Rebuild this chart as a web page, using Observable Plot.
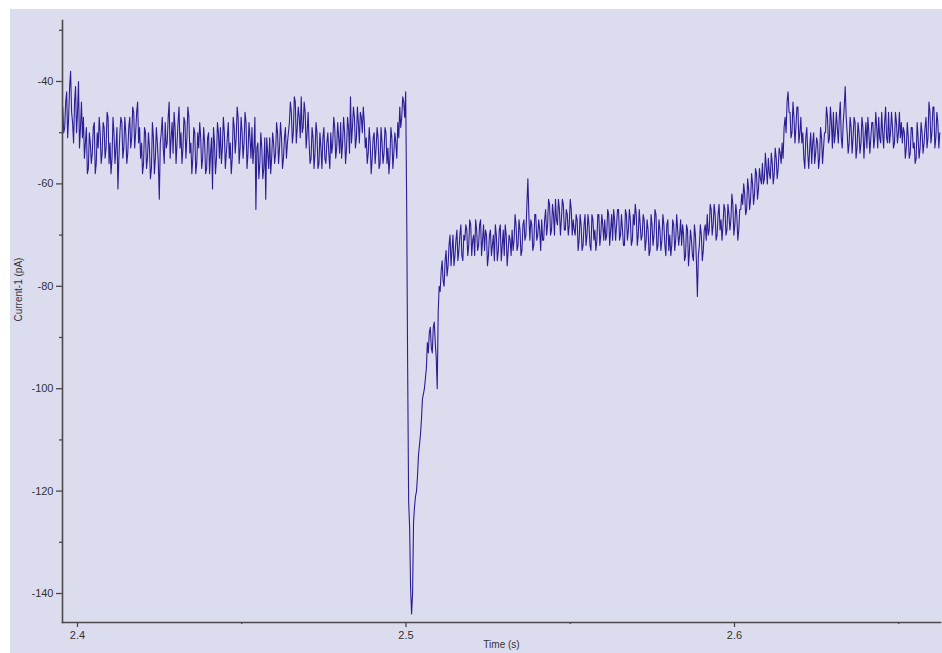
<!DOCTYPE html>
<html>
<head>
<meta charset="utf-8">
<script src="https://cdn.jsdelivr.net/npm/d3@7"></script>
<script src="https://cdn.jsdelivr.net/npm/@observablehq/plot@0.6"></script>
<style>
  html, body { margin: 0; padding: 0; background: #ffffff; overflow: hidden; }
  #chart { position: absolute; left: 10px; top: 9px; width: 932px; height: 644px; background: #dcdcef; }
  #chart svg { display: block; }
</style>
</head>
<body>
<div id="chart"></div>
<script>
// Recording: sampled trace (Current-1, pA)
const sampleStart = 2.3955;   // s, first sample
const sampleStep = 0.0006;    // s, between samples in `current`
// samples on the grid sampleStart + i*sampleStep
const current = [
  -45, -49, -42, -47, -38, -48, -44, -50, -40, -49,
  -51, -55, -49, -57, -52, -54, -48, -56, -53, -50,
  -54, -49, -53, -47, -52, -55, -50, -53, -61, -50,
  -48, -53, -50, -54, -47,
  -51, -46, -50, -44, -49,
  -52, -56, -50, -55, -53, -57, -51, -55, -52, -63,
  -50, -53, -48, -52, -44, -51, -54, -49, -52, -45, -50, -53, -48, -51, -47,
  -52, -55, -50, -56, -53, -51, -55, -52, -57, -50, -54, -61, -52, -55, -50,
  -49, -53, -50, -54, -48, -52, -55, -49, -51, -47, -53, -50, -52, -48, -54, -51, -49, -53,
  -65, -52, -56, -53, -57, -63, -54, -51, -55,
  -52, -54, -50, -53, -51, -55, -49, -52,
  -48, -46, -50, -44, -49, -47, -43, -49, -46, -50,
  -52, -55, -51, -54, -50, -56, -53, -51, -55, -52, -54,
  -50, -52, -49, -53, -51, -48, -52, -50, -53, -49,
  -43, -49, -47, -51, -48, -46, -50, -48,
  -51, -54, -52, -55, -50, -53, -51, -56, -52, -54, -50, -53, -55, -51, -54, -52,
  -48, -45, -47, -44, -42,
  -96, -127, -144,
  -126, -121, -117, -111, -106, -101, -98, -91, -89, -92, -88, -91, -100, -80, -77, -79, -75, -78, -72, -76,
  -70, -74, -69, -73, -68, -75, -71, -69,
  -72, -68, -71, -74, -69, -72, -67, -71,
  -73, -70, -74, -69, -72, -75, -70, -73, -68, -72, -74, -70, -73, -71, -69,
  -71, -68, -72, -69, -73, -67, -70, -59, -71, -68, -72, -66, -70, -69, -67, -71,
  -65, -68, -64, -69, -66, -63, -68, -65, -67, -64, -69, -66, -68, -65, -67,
  -70, -67, -71, -68, -72, -66, -70, -68, -73, -67, -69, -71, -66, -70, -68,
  -67, -70, -66, -69, -71, -67, -68, -65, -70, -69, -72, -66, -69, -67, -71, -68, -66, -70, -68,
  -70, -67, -71, -69, -73, -68, -70, -66, -72, -69, -71, -68, -74, -67, -70, -72, -68, -71, -69, -70,
  -72, -70, -74, -69, -73, -71, -75, -70, -82, -72, -70, -73, -68,
  -66, -69, -65, -68, -66, -70, -64, -67, -68, -65, -69, -66, -67, -64, -68, -66, -69, -65,
  -64, -62, -65, -61, -63, -60, -62, -58, -61, -59,
  -56, -59, -57, -55, -59, -56, -58, -55, -57, -54,
  -52, -49, -50, -42,
  -46, -50, -47, -49, -45, -50,
  -52, -55, -51, -54, -53, -56, -50, -54, -52, -55, -51, -53,
  -50, -47, -51, -48, -46, -50, -49, -47, -51, -48, -41,
  -50, -52, -49, -51, -48, -53, -50, -52, -49, -51, -53, -50, -51,
  -48, -51, -49, -47, -52, -50, -48, -51, -46, -50, -49, -52, -48, -50, -51,
  -52, -50, -53, -51, -54, -49, -52, -55, -51, -53, -50, -52,
  -47, -51, -46, -50, -45, -51, -48, -50
];
// samples half a step later: sampleStart + (i + 0.5)*sampleStep
const currentMid = [
  -50, -44, -51, -41, -46, -52, -41, -46, -53, -44,
  -47, -52, -58, -50, -56, -49, -58, -50, -47, -56,
  -48, -55, -46, -56, -58, -47, -56, -49, -55, -47,
  -55, -47, -56, -49, -53,
  -45, -53, -46, -52, -55,
  -58, -49, -57, -50, -59, -48, -58, -49, -56, -52,
  -47, -56, -53, -47, -55, -48, -46, -56, -48, -53, -56, -47, -55, -45, -54,
  -58, -49, -58, -50, -48, -57, -49, -58, -51, -58, -51, -49, -58, -48, -55,
  -56, -47, -57, -51, -55, -58, -47, -54, -45, -56, -47, -55, -46, -57, -48, -55, -56, -47,
  -53, -59, -50, -59, -51, -51, -57, -58, -50,
  -56, -48, -56, -48, -57, -51, -55, -50,
  -44, -52, -43, -52, -45, -51, -50, -44, -53, -46,
  -56, -49, -57, -48, -57, -50, -57, -49, -56, -50, -57,
  -54, -47, -55, -48, -54, -55, -47, -56, -47, -54,
  -52, -45, -53, -45, -52, -47, -45, -53,
  -56, -49, -58, -51, -56, -49, -57, -49, -56, -49, -56, -58, -49, -57, -50, -55,
  -51, -49, -43, -47, -64,
  -122, -139, -140,
  -123, -120, -113, -109, -102, -100, -96, -93, -88, -93, -87, -94, -85, -81, -75, -80, -73, -76, -70, -73,
  -76, -71, -75, -70, -74, -70, -68, -74,
  -67, -74, -70, -67, -73, -68, -74, -68,
  -69, -76, -70, -74, -70, -68, -75, -69, -75, -69, -68, -76, -70, -74, -73,
  -66, -73, -67, -74, -68, -71, -64, -66, -67, -73, -66, -71, -67, -73, -71, -67,
  -70, -63, -70, -64, -70, -67, -63, -70, -63, -69, -65, -70, -63, -70, -69,
  -66, -73, -66, -73, -68, -72, -66, -72, -66, -71, -73, -66, -72, -66, -71,
  -71, -65, -72, -66, -65, -71, -65, -71, -66, -72, -65, -71, -65, -72, -66, -64, -72, -65, -71,
  -66, -73, -67, -74, -66, -72, -65, -73, -67, -73, -66, -72, -68, -73, -74, -67, -73, -66, -72, -67,
  -68, -75, -68, -76, -69, -74, -68, -75, -74, -68, -75, -69, -71,
  -70, -64, -70, -64, -71, -66, -69, -71, -64, -70, -64, -69, -62, -70, -64, -71, -65, -62,
  -60, -66, -59, -65, -58, -64, -57, -63, -57, -60,
  -60, -54, -60, -58, -54, -60, -53, -59, -53, -56,
  -55, -47, -44, -46,
  -51, -44, -52, -45, -52, -47,
  -50, -57, -49, -57, -50, -52, -56, -51, -57, -49, -56, -50,
  -45, -52, -45, -53, -52, -46, -52, -44, -53, -45, -47,
  -54, -47, -54, -47, -55, -48, -54, -47, -55, -48, -47, -54, -48,
  -53, -46, -53, -51, -46, -53, -45, -52, -52, -46, -53, -46, -52, -46, -48,
  -49, -55, -48, -55, -49, -53, -56, -48, -55, -48, -54, -49,
  -53, -44, -52, -45, -53, -46, -53
];

const xTicks = [2.4, 2.5, 2.6];
const xMinorTicks = [2.45, 2.55, 2.65];
const yTicks = [-40, -60, -80, -100, -120, -140];
const yMinorTicks = [-30, -50, -70, -90, -110, -130];
const xDomain = [2.39543, 2.66271];
const yDomain = [-145.66, -28.09];
const xLabel = "Time (s)";
const yLabel = "Current-1 (pA)";

const trace = [];
current.forEach((v, i) => {
  trace.push({t: sampleStart + i * sampleStep, v});
  if (i < currentMid.length) trace.push({t: sampleStart + (i + 0.5) * sampleStep, v: currentMid[i]});
});

const axisColor = "#4a4a4a";
const textColor = "#333333";
const fmt = d => String(d);
const none = () => "";

const chart = Plot.plot({
  width: 932,
  height: 644,
  marginLeft: 52,
  marginRight: 2,
  marginTop: 11,
  marginBottom: 31,
  style: {background: "#dcdcef", fontFamily: "'Liberation Sans', Arial, sans-serif", fontSize: "11px", color: textColor},
  x: {domain: xDomain},
  y: {domain: yDomain},
  marks: [
    Plot.line(trace, {x: "t", y: "v", stroke: "#2b1e94", strokeWidth: 1.1, curve: "linear"}),
    Plot.axisY({ticks: yTicks, tickSize: 6, tickPadding: 3, tickFormat: fmt, label: null, stroke: axisColor, strokeWidth: 1.3, fill: textColor}),
    Plot.axisY({ticks: yMinorTicks, tickSize: 3, tickFormat: none, label: null, stroke: axisColor, strokeWidth: 1.3}),
    Plot.axisX({ticks: xTicks, tickSize: 5, tickPadding: 4, tickFormat: fmt, label: null, stroke: axisColor, strokeWidth: 1.3, fill: textColor}),
    Plot.axisX({ticks: xMinorTicks, tickSize: 2, tickFormat: none, label: null, stroke: axisColor, strokeWidth: 1.3}),
    Plot.frame({anchor: "left", stroke: axisColor, strokeWidth: 1.6}),
    Plot.frame({anchor: "bottom", stroke: axisColor, strokeWidth: 1.6}),
    Plot.text([yLabel], {frameAnchor: "left", dx: -44, rotate: -90, fontSize: 10, fill: textColor}),
    Plot.text([xLabel], {frameAnchor: "bottom", dy: 25, fontSize: 10, fill: textColor})
  ]
});

document.getElementById("chart").appendChild(chart);
</script>
</body>
</html>
